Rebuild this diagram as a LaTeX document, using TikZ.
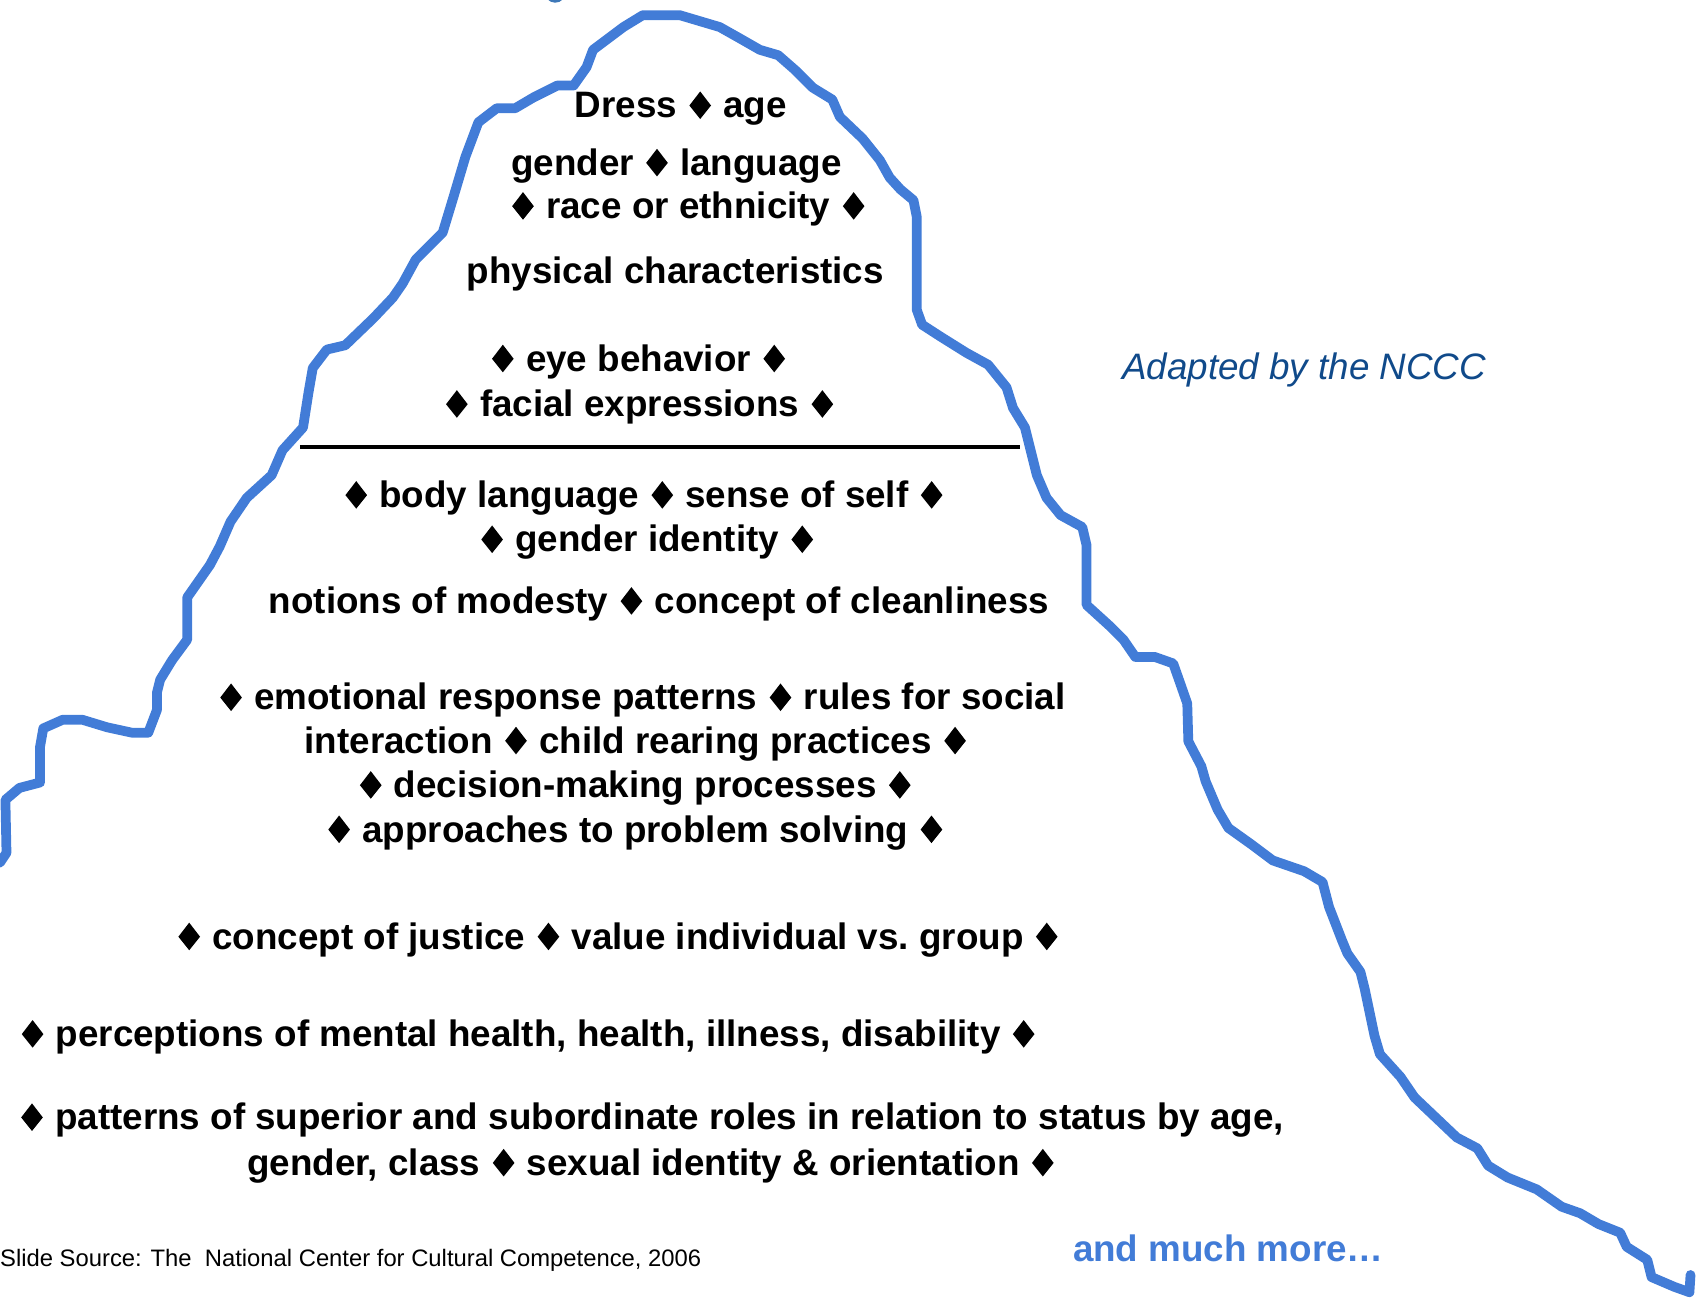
\documentclass[tikz,border=0pt]{standalone}
\usepackage{fontspec}
\setmainfont{Liberation Sans}
% solid diamond separator, sitting on the baseline
\newcommand{\dia}{\kern2pt\tikz[x=1pt,y=1pt,baseline=0pt]\fill (0,-1) -- (10,11.5) -- (0,24.5) -- (-10,11.5) -- cycle;\kern2pt}
\definecolor{berg}{RGB}{66,124,215}
\definecolor{nccc}{RGB}{16,74,138}
\definecolor{crest}{RGB}{62,120,184}
\begin{document}
\begin{tikzpicture}[x=1pt,y=-1pt,
  bergline/.style={draw=berg, line width=9pt, line join=round, line cap=round},
  waterline/.style={draw=black, line width=4.5pt},
  trait/.style={anchor=base, inner sep=0pt, font=\fontsize{34}{40}\selectfont\bfseries},
  credit/.style={anchor=base, inner sep=0pt, font=\fontsize{34}{40}\selectfont\itshape, text=nccc},
  more/.style={anchor=base, inner sep=0pt, font=\fontsize{34}{40}\selectfont\bfseries, text=berg},
  source/.style={anchor=base west, inner sep=0pt, font=\fontsize{22}{26}\selectfont}]
\useasboundingbox (0,0) rectangle (1568,1200);

% small crest peeking in at the top edge
\fill[crest] (513,-8) ellipse [x radius=10, y radius=10.5];

% outline of the iceberg
\draw[bergline] (0,797) -- (6,788) -- (5,739) -- (18,728) -- (37,723) -- (37,690)
  -- (40,673) -- (58,665) -- (76,665) -- (99,672) -- (122,677) -- (137,677)
  -- (145,656) -- (145,640) -- (148,628) -- (159,610) -- (173,591) -- (173,552)
  -- (194,522) -- (203,505) -- (213,482) -- (228,460) -- (251,439) -- (261,416)
  -- (280,395) -- (285,363) -- (289,340) -- (302,323) -- (319,319) -- (345,294)
  -- (363,275) -- (372,262) -- (384,240) -- (409,215) -- (419,182) -- (430,145)
  -- (442,113) -- (459,100) -- (476,100) -- (493,90) -- (515,79) -- (530,79)
  -- (542,62) -- (548,46) -- (564,34) -- (576,25) -- (594,14) -- (628,14)
  -- (665,25) -- (681,34) -- (702,46) -- (719,51) -- (735,65) -- (751,81)
  -- (769,92) -- (776,108) -- (797,128) -- (813,148) -- (822,164) -- (832,175)
  -- (844,185) -- (847,200) -- (847,286) -- (852,300) -- (869,311) -- (893,326)
  -- (913,337) -- (930,358) -- (936,377) -- (947,395) -- (958,439) -- (967,460)
  -- (980,476) -- (1000,487) -- (1004,504) -- (1004,559) -- (1026,579) -- (1038,591)
  -- (1049,607) -- (1067,607) -- (1084,613) -- (1090,630) -- (1097,650) -- (1098,685)
  -- (1110,708) -- (1114,722) -- (1125,748) -- (1135,765) -- (1156,780) -- (1176,795)
  -- (1205,805) -- (1222,815) -- (1228,838) -- (1240,869) -- (1245,881) -- (1257,898)
  -- (1261,914) -- (1270,957) -- (1275,974) -- (1294,995) -- (1307,1014) -- (1346,1051)
  -- (1365,1061) -- (1375,1077) -- (1393,1088) -- (1420,1099) -- (1443,1115)
  -- (1460,1121) -- (1477,1131) -- (1497,1139) -- (1503,1152) -- (1522,1164)
  -- (1526,1180) -- (1547,1189) -- (1561,1194) -- (1562,1178);

% surface line
\coordinate (wl) at (277,413);
\coordinate (wr) at (942,413);
\draw[waterline] (wl) -- (wr);

% visible traits above the surface
\node[trait] (dress)    at (629,109) {Dress \dia{} age};
\node[trait] (gender)   at (625,162) {gender \dia{} language};
\node[trait] (race)     at (636,202) {\dia{} race or ethnicity \dia};
\node[trait] (physical) at (624,262) {physical characteristics};
\node[trait] (eye)      at (590,343) {\dia{} eye behavior \dia};
\node[trait] (facial)   at (591,385) {\dia{} facial expressions \dia};

% hidden traits below the surface
\node[trait] (body)      at (595,469) {\dia{} body language \dia{} sense of self \dia};
\node[trait] (identity)  at (598,510) {\dia{} gender identity \dia};
\node[trait] (modesty)   at (609,567) {notions of modesty \dia{} concept of cleanliness};
\node[trait] (emotion)   at (593,656) {\dia{} emotional response patterns \dia{} rules for social};
\node[trait] (interact)  at (588,696) {interaction \dia{} child rearing practices \dia};
\node[trait] (decision)  at (587,737) {\dia{} decision-making processes \dia};
\node[trait] (problem)   at (587,778) {\dia{} approaches to problem solving \dia};
\node[trait] (justice)   at (571,877) {\dia{} concept of justice \dia{} value individual vs.\ group \dia};
\node[trait] (health)    at (488,967) {\dia{} perceptions of mental health, health, illness, disability \dia};
\node[trait] (roles)     at (602,1044) {\dia{} patterns of superior and subordinate roles in relation to status by age,};
\node[trait] (orient)    at (602,1086) {gender, class \dia{} sexual identity \& orientation \dia};

% side notes
\node[credit] (adapted) at (1205,351) {Adapted by the NCCC};
\node[more] (muchmore) at (1135,1166) {and much more…};
\node[source] (slide) at (0,1170) {Slide Source: The\ \ National Center for Cultural Competence, 2006};
\end{tikzpicture}
\end{document}
